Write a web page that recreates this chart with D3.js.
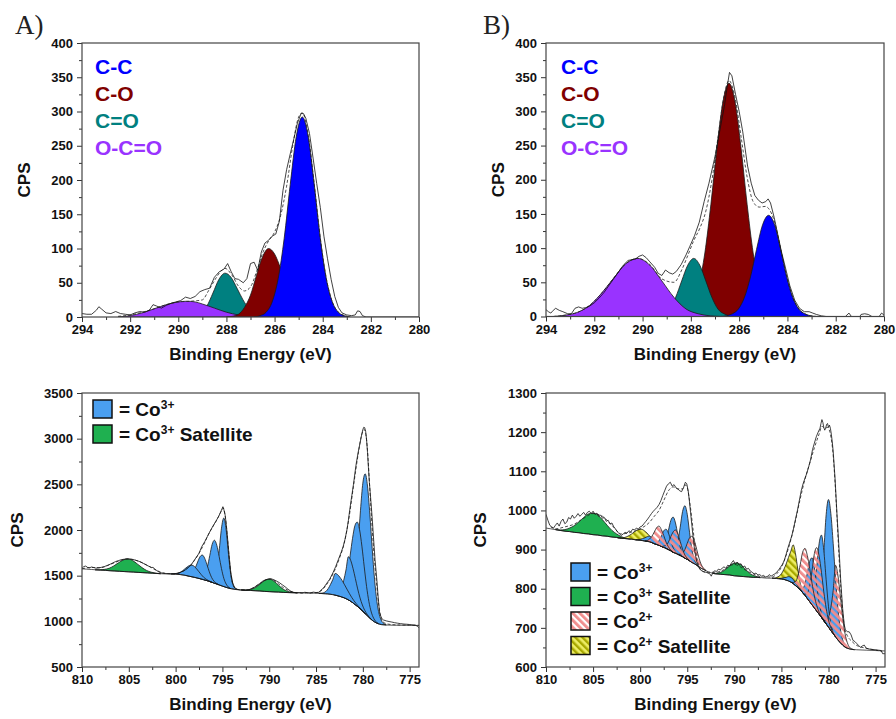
<!DOCTYPE html>
<html><head><meta charset="utf-8">
<script src="https://cdn.jsdelivr.net/npm/d3@7"></script>
<style>body{margin:0;background:#fff} svg{display:block}</style>
</head><body><svg id="chart" width="896" height="719" style="font-family:'Liberation Sans',Arial,sans-serif"></svg>
<script>
// ---------------- DATA ----------------
// Panel A (C 1s, sample A)
const aRaw = [[294,5],[293.8,4],[293.6,4],[293.4,10],[293.3,15],[293.2,12],[293.0,6],[292.8,5],[292.6,8],[292.4,5],[292.2,4],[292.0,3],[291.8,6],[291.6,8],[291.4,7],[291.2,10],[291.05,18],[290.9,16],[290.7,13],[290.5,17],[290.3,20],[290.1,22],[289.9,24],[289.7,29],[289.5,27],[289.3,30],[289.1,37],[288.9,40],[288.7,42],[288.5,58],[288.3,66],[288.1,70],[287.95,78],[287.8,66],[287.65,56],[287.5,55],[287.3,50],[287.15,56],[287.0,78],[286.85,80],[286.7,68],[286.55,95],[286.4,108],[286.25,112],[286.1,118],[285.95,121],[285.8,140],[285.65,185],[285.5,215],[285.35,238],[285.2,260],[285.05,283],[284.9,297],[284.8,297],[284.7,290],[284.55,268],[284.4,232],[284.25,195],[284.1,160],[283.95,118],[283.8,85],[283.65,55],[283.5,30],[283.35,14],[283.2,6],[283.0,3],[282.8,2],[282.65,3],[282.55,9],[282.45,8],[282.35,2],[282.2,0],[281.5,0],[280,0]];
const aEnvelope = [[292.5,1],[292,3],[291.5,7],[291,12],[290.5,18],[290,22],[289.5,23],[289.0,25],[288.75,38],[288.5,53],[288.25,66],[288.06,71],[287.75,60],[287.5,45],[287.25,38],[287.0,44],[286.75,66],[286.5,93],[286.25,111],[286.0,124],[285.75,148],[285.5,191],[285.25,249],[285.0,292],[284.85,298],[284.6,265],[284.35,193],[284.1,115],[283.85,56],[283.6,22],[283.35,7],[283.1,2],[282.85,0]];
const aCC = [[286.85,0],[286.6,2],[286.35,7],[286.1,22],[285.85,56],[285.6,115],[285.35,193],[285.1,263],[284.85,292],[284.6,263],[284.35,193],[284.1,115],[283.85,56],[283.6,22],[283.35,7],[283.1,2],[282.85,0]];
const aCO = [[288.0,0],[287.75,1],[287.5,4],[287.25,14],[287.0,32],[286.75,61],[286.5,88],[286.25,100],[286.0,92],[285.75,71],[285.5,46],[285.25,25],[285.0,11],[284.75,4],[284.5,1],[284.25,0]];
const aCdO = [[289.56,0],[289.31,1],[289.06,5],[288.81,16],[288.56,35],[288.31,55],[288.06,64],[287.81,58],[287.56,42],[287.31,25],[287.06,12],[286.81,5],[286.56,2],[286.31,0]];
const aOCO = [[292.5,0],[292.0,2],[291.5,6],[291.0,12],[290.5,18],[290.0,22],[289.65,23],[289.3,22],[289.0,19],[288.5,13],[288.0,7],[287.5,3],[287.0,1],[286.5,0]];

// Panel B (C 1s, sample B)
const bRaw = [[294,10],[293.9,7],[293.8,5],[293.7,9],[293.6,12],[293.45,9],[293.3,7],[293.1,4],[292.95,4],[292.8,12],[292.65,14],[292.5,12],[292.35,13],[292.2,15],[292.0,20],[291.8,27],[291.6,35],[291.4,45],[291.2,55],[291.0,65],[290.8,75],[290.6,82],[290.45,83],[290.3,84],[290.15,88],[290.0,90],[289.85,86],[289.7,80],[289.5,72],[289.35,63],[289.2,60],[289.05,68],[288.9,64],[288.75,62],[288.6,66],[288.4,76],[288.2,90],[288.05,102],[287.85,118],[287.65,138],[287.45,168],[287.25,195],[287.0,234],[286.8,272],[286.6,310],[286.5,335],[286.4,357],[286.3,352],[286.15,325],[286.0,300],[285.85,270],[285.65,220],[285.5,195],[285.35,177],[285.2,170],[285.05,166],[284.9,168],[284.8,172],[284.7,166],[284.55,145],[284.4,120],[284.25,95],[284.1,74],[283.9,45],[283.7,24],[283.5,12],[283.3,7],[283.1,7],[282.95,5],[282.8,3],[282.6,1],[282.4,0],[281.6,0],[281.45,5],[281.35,0],[281.0,0],[280.95,3],[280.8,4],[280.65,3],[280.5,0],[280.2,0],[280.1,5],[280.0,2]];
const bEnvelope = [[293.7,0],[293.2,2],[292.7,6],[292.2,16],[291.7,34],[291.2,56],[290.7,77],[290.2,85],[289.7,76],[289.2,55],[288.7,50],[288.38,68],[288.13,89],[287.88,111],[287.63,129],[287.38,154],[287.13,199],[286.88,261],[286.63,322],[286.42,345],[286.17,320],[285.92,263],[285.67,204],[285.42,168],[285.17,160],[284.92,161],[284.78,158],[284.53,138],[284.28,99],[284.03,58],[283.78,28],[283.53,11],[283.28,4],[283.03,1],[282.78,0]];
const bCC = [[286.78,0],[286.53,1],[286.28,4],[286.03,11],[285.78,28],[285.53,58],[285.28,98],[285.03,134],[284.78,148],[284.53,134],[284.28,98],[284.03,58],[283.78,28],[283.53,11],[283.28,4],[283.03,1],[282.78,0]];
const bCO = [[288.67,0],[288.42,2],[288.17,6],[287.92,18],[287.67,45],[287.42,93],[287.17,164],[286.92,246],[286.67,314],[286.42,341],[286.17,314],[285.92,246],[285.67,164],[285.42,93],[285.17,45],[284.92,18],[284.67,6],[284.42,2],[284.17,0]];
const bCdO = [[289.63,0],[289.38,1],[289.13,4],[288.88,11],[288.63,28],[288.38,52],[288.13,75],[287.88,85],[287.63,75],[287.38,52],[287.13,28],[286.88,11],[286.63,4],[286.38,1],[286.13,0]];
const bOCO = [[293.7,0],[293.2,2],[292.7,6],[292.2,16],[291.7,34],[291.2,56],[290.7,77],[290.2,85],[289.7,75],[289.2,52],[288.7,28],[288.2,11],[287.7,4],[287.2,1],[286.7,0]];

const carbonLabels = ["C-C","C-O","C=O","O-C=O"];
const carbonColors = ["#0000ff","#800000","#008080","#9933ff"];
const topXTicks = [294,292,290,288,286,284,282,280];
const topXMinor = [293,291,289,287,285,283,281];
const topYTicks = [0,50,100,150,200,250,300,350,400];
const topYMinor = [25,75,125,175,225,275,325,375];

// Panel C (Co 2p, sample A)
const cRaw = [[810,1580],[809.8,1600],[809.6,1605],[809.4,1590],[809.2,1585],[809.0,1595],[808.8,1590],[808.5,1582],[808.2,1585],[807.9,1592],[807.6,1600],[807.3,1612],[807.0,1625],[806.7,1640],[806.4,1655],[806.1,1665],[805.8,1675],[805.5,1680],[805.2,1684],[804.9,1682],[804.6,1678],[804.3,1670],[804.0,1660],[803.7,1648],[803.4,1632],[803.1,1615],[802.8,1600],[802.6,1590],[802.4,1590],[802.2,1570],[802.0,1555],[801.7,1535],[801.4,1527],[801.1,1524],[800.8,1522],[800.5,1520],[800.2,1521],[799.9,1524],[799.6,1530],[799.3,1545],[799.0,1560],[798.7,1585],[798.4,1610],[798.1,1655],[797.8,1700],[797.5,1745],[797.2,1820],[796.9,1870],[796.6,1930],[796.3,1990],[796.0,2045],[795.7,2095],[795.4,2150],[795.2,2195],[795.05,2230],[794.95,2255],[794.85,2225],[794.7,2160],[794.55,2020],[794.4,1850],[794.25,1680],[794.1,1530],[793.9,1420],[793.7,1370],[793.4,1350],[793.1,1342],[792.8,1340],[792.5,1338],[792.2,1345],[791.9,1358],[791.6,1372],[791.3,1395],[791.0,1415],[790.7,1440],[790.4,1455],[790.1,1462],[789.8,1466],[789.5,1455],[789.2,1440],[788.9,1422],[788.6,1400],[788.3,1378],[788.0,1352],[787.7,1330],[787.4,1318],[787.1,1312],[786.8,1315],[786.5,1310],[786.2,1318],[785.9,1314],[785.6,1310],[785.3,1320],[785.0,1315],[784.7,1318],[784.5,1340],[784.2,1365],[783.9,1410],[783.55,1460],[783.2,1530],[782.9,1600],[782.6,1680],[782.3,1760],[782.1,1820],[781.9,1900],[781.7,2000],[781.55,2100],[781.4,2220],[781.2,2360],[781.0,2500],[780.85,2620],[780.7,2730],[780.5,2850],[780.3,2950],[780.15,3030],[780.0,3100],[779.9,3125],[779.8,3120],[779.7,3080],[779.6,2990],[779.5,2850],[779.4,2680],[779.3,2520],[779.15,2330],[779.0,2130],[778.85,1900],[778.7,1680],[778.5,1450],[778.35,1250],[778.2,1090],[778.0,1035],[777.8,1015],[777.5,1005],[777.2,998],[776.9,992],[776.6,985],[776.3,980],[776.0,975],[775.6,970],[775.3,968],[775.0,965],[774.6,960],[774.4,958],[774.2,948],[774.0,930]];
const cEnvelope = [[810,1575],[809,1590],[808,1588],[807,1622],[806,1663],[805.1,1683],[804,1660],[803,1612],[802,1556],[801,1524],[800,1520],[799.5,1535],[799,1560],[798.5,1605],[798,1665],[797.5,1745],[797,1840],[796.5,1950],[796,2040],[795.5,2130],[795.1,2210],[794.9,2240],[794.7,2150],[794.5,1960],[794.3,1720],[794.1,1520],[793.9,1410],[793.6,1360],[793.2,1345],[792.5,1342],[792,1352],[791.5,1378],[791,1412],[790.5,1447],[790,1463],[789.5,1450],[789,1410],[788.5,1370],[788,1340],[787.5,1320],[787,1313],[786,1312],[785,1312],[784.5,1330],[784,1385],[783.5,1460],[783,1560],[782.5,1690],[782,1850],[781.5,2120],[781,2480],[780.5,2830],[780.2,3010],[780,3080],[779.85,3100],[779.7,3060],[779.5,2870],[779.3,2530],[779.1,2180],[778.9,1860],[778.7,1600],[778.5,1380],[778.3,1180],[778.1,1060],[777.9,1000],[777.5,975],[777,965],[776,960],[775,958],[774,956]];
const cBackground = [[810,1575],[809.5,1571],[809,1568],[808.5,1564],[808,1561],[807.5,1558],[807,1554],[806.5,1551],[806,1548],[805.5,1545],[805,1542],[804.5,1539],[804,1536],[803.5,1533],[803,1530],[802.5,1527],[802,1524],[801.5,1521],[801,1519],[800.5,1519],[800,1517],[799.5,1512],[799,1504],[798.5,1493],[798,1482],[797.5,1470],[797,1456],[796.5,1441],[796,1423],[795.5,1405],[795,1386],[794.5,1369],[794,1356],[793.5,1348],[793,1345],[792.5,1341],[792,1338],[791.5,1335],[791,1332],[790.5,1328],[790,1325],[789.5,1322],[789,1320],[788.5,1317],[788,1315],[787.5,1313],[787,1312],[786.5,1311],[786,1310],[785.5,1309],[785,1308],[784.5,1305],[784,1302],[783.75,1300],[783.5,1297],[783.25,1293],[783,1288],[782.75,1282],[782.5,1275],[782.25,1267],[782,1258],[781.75,1247],[781.5,1233],[781.25,1217],[781,1198],[780.75,1178],[780.5,1157],[780.25,1134],[780,1110],[779.75,1085],[779.5,1060],[779.25,1035],[779,1012],[778.75,994],[778.5,980],[778.25,970],[778,964],[777.5,960],[777,958],[776,957],[775,956],[774,955]];
// Co3+ components (right-most first)
const cCo3p1 = [[781.75,1247],[781.5,1254],[781.25,1284],[781.0,1372],[780.75,1559],[780.5,1858],[780.25,2216],[780.0,2513],[779.75,2615],[779.5,2481],[779.25,2173],[779.0,1798],[778.75,1462],[778.5,1220],[778.25,1077],[778.0,1005],[777.75,975],[777.5,960]];
const cCo3p2 = [[782.85,1285],[782.6,1290],[782.35,1304],[782.1,1343],[781.85,1422],[781.6,1551],[781.35,1725],[781.1,1909],[780.85,2047],[780.6,2087],[780.35,2004],[780.1,1823],[779.85,1596],[779.6,1382],[779.35,1215],[779.1,1102],[778.85,1035],[778.6,997],[778.35,974]];
const cCo3p3 = [[783.05,1289],[782.8,1294],[782.55,1313],[782.3,1359],[782.05,1446],[781.8,1562],[781.55,1708],[781.3,1668],[781.05,1580],[780.8,1469],[780.55,1355],[780.3,1257],[780.05,1179],[779.8,1121],[779.55,1079],[779.3,1045],[779.05,1017]];
const cCo3p4 = [[784.7,1306],[784.45,1308],[784.2,1313],[783.95,1328],[783.7,1358],[783.45,1405],[783.2,1460],[782.95,1525],[782.7,1512],[782.45,1483],[782.2,1445],[781.95,1400],[781.7,1353],[781.45,1307],[781.2,1264],[780.95,1226],[780.7,1193],[780.45,1162],[780.2,1134],[779.95,1108],[779.7,1080]];
const cCo3q1 = [[796.35,1435],[796.1,1436],[795.85,1462],[795.6,1561],[795.35,1770],[795.1,2020],[794.85,2131],[794.6,2001],[794.35,1733],[794.1,1509],[793.85,1396],[793.6,1358],[793.35,1347]];
const cCo3q2 = [[797.6,1474],[797.35,1472],[797.1,1481],[796.85,1515],[796.6,1597],[796.35,1720],[796.1,1842],[795.85,1888],[795.6,1833],[795.35,1711],[795.1,1577],[794.85,1471],[794.6,1408],[794.35,1374],[794.1,1357]];
const cCo3q3 = [[798.9,1503],[798.65,1504],[798.4,1512],[798.15,1538],[797.9,1585],[797.65,1649],[797.4,1706],[797.15,1726],[796.9,1692],[796.65,1621],[796.4,1542],[796.15,1479],[795.9,1440],[795.65,1417],[795.4,1401]];
const cCo3q4 = [[800.5,1519],[800.25,1520],[800.0,1523],[799.75,1528],[799.5,1538],[799.25,1554],[799.0,1576],[798.75,1597],[798.5,1612],[798.25,1615],[798.0,1601],[797.75,1574],[797.5,1542],[797.25,1510],[797.0,1482],[796.75,1462],[796.5,1447],[796.25,1434],[796.0,1423]];
const cSat1 = [[808.6,1564],[808.1,1564],[807.6,1569],[807.1,1581],[806.6,1607],[806.1,1641],[805.6,1672],[805.1,1683],[804.6,1666],[804.1,1629],[803.6,1589],[803.1,1557],[802.6,1538],[802.1,1527],[801.6,1521]];
const cSat2 = [[793,1345],[792.5,1344],[792,1350],[791.5,1369],[791,1406],[790.5,1446],[790,1463],[789.5,1440],[789,1394],[788.5,1351],[788,1327],[787.5,1316],[787,1312]];

// Panel D (Co 2p, sample B)
const dRaw = [[810,990],[809.8,975],[809.6,962],[809.4,958],[809.2,955],[809.0,962],[808.8,968],[808.6,960],[808.4,972],[808.2,978],[808.0,966],[807.8,970],[807.6,982],[807.4,978],[807.2,988],[807.0,980],[806.8,985],[806.6,992],[806.4,985],[806.2,990],[806.0,995],[805.8,988],[805.6,995],[805.4,998],[805.2,992],[805.0,998],[804.8,990],[804.6,993],[804.4,985],[804.2,988],[804.0,980],[803.8,982],[803.6,972],[803.4,975],[803.2,965],[803.0,968],[802.8,958],[802.6,952],[802.4,945],[802.2,940],[802.0,936],[801.8,940],[801.6,944],[801.4,942],[801.2,948],[801.0,945],[800.8,952],[800.6,950],[800.4,955],[800.2,952],[800.0,958],[799.8,960],[799.6,966],[799.4,972],[799.2,978],[799.0,985],[798.8,992],[798.6,998],[798.4,1003],[798.2,1008],[798.0,1015],[797.8,1025],[797.6,1038],[797.4,1050],[797.2,1062],[797.0,1068],[796.8,1072],[796.6,1062],[796.4,1066],[796.2,1058],[796.0,1055],[795.8,1050],[795.6,1048],[795.4,1058],[795.2,1072],[795.05,1068],[794.9,1050],[794.8,1030],[794.65,995],[794.5,960],[794.35,925],[794.2,895],[794.0,870],[793.8,855],[793.6,848],[793.4,845],[793.2,843],[793.0,842],[792.8,840],[792.6,838],[792.45,832],[792.3,840],[792.1,846],[791.9,844],[791.7,850],[791.5,848],[791.3,852],[791.1,856],[790.9,852],[790.7,860],[790.5,858],[790.3,866],[790.1,872],[789.9,862],[789.7,868],[789.5,860],[789.3,864],[789.1,855],[788.9,858],[788.7,850],[788.5,852],[788.3,845],[788.1,842],[787.9,838],[787.7,840],[787.5,835],[787.3,836],[787.1,832],[786.9,834],[786.7,830],[786.5,831],[786.3,836],[786.1,832],[785.9,835],[785.7,838],[785.5,842],[785.3,848],[785.1,855],[784.9,862],[784.7,872],[784.5,888],[784.3,905],[784.1,920],[783.9,935],[783.7,955],[783.5,978],[783.3,1000],[783.1,1025],[782.9,1050],[782.7,1068],[782.5,1082],[782.3,1095],[782.1,1112],[781.9,1130],[781.7,1155],[781.5,1172],[781.3,1188],[781.1,1200],[780.9,1210],[780.8,1222],[780.7,1232],[780.6,1225],[780.5,1212],[780.4,1205],[780.3,1210],[780.2,1220],[780.1,1222],[780.0,1212],[779.9,1218],[779.8,1210],[779.7,1195],[779.6,1175],[779.5,1150],[779.4,1115],[779.3,1080],[779.2,1035],[779.1,990],[779.0,950],[778.9,910],[778.8,865],[778.7,820],[778.6,785],[778.5,750],[778.4,725],[778.3,705],[778.2,695],[778.0,690],[777.8,690],[777.6,682],[777.4,668],[777.2,665],[777.0,660],[776.8,655],[776.6,650],[776.4,654],[776.2,656],[776.0,648],[775.7,646],[775.4,645],[775.0,644],[774.7,643],[774.4,642],[774.25,634],[774.0,634]];
const dEnvelope = [[809.5,958],[809,953],[808,958],[807,965],[806,980],[805,992],[804,985],[803,962],[802,940],[801,944],[800,953],[799,970],[798.5,985],[798,1000],[797.5,1025],[797,1050],[796.5,1060],[796,1055],[795.5,1055],[795.2,1065],[795,1058],[794.7,1015],[794.4,955],[794.1,895],[793.8,860],[793.4,845],[793,842],[792,842],[791,850],[790.5,858],[790,862],[789.5,858],[789,850],[788,838],[787,830],[786,830],[785.5,838],[785,855],[784.5,885],[784,925],[783.5,975],[783,1030],[782.5,1080],[782,1120],[781.5,1160],[781,1195],[780.7,1215],[780.4,1210],[780.1,1212],[779.8,1195],[779.5,1140],[779.3,1070],[779.1,985],[778.9,890],[778.7,805],[778.5,740],[778.3,700],[778,680],[777.5,665],[777,655],[776,648],[775,643],[774.3,640]];
const dBackground = [[810,955],[809.5,953],[809,951],[808.5,949],[808,947],[807.5,946],[807,944],[806.5,943],[806,941],[805.5,940],[805,938],[804.5,937],[804,935],[803.5,934],[803,932],[802.5,931],[802,929],[801.5,928],[801,927],[800.5,925],[800.25,924.5],[800,924],[799.75,923],[799.5,922],[799.25,921],[799,920],[798.75,918],[798.5,915],[798.25,913],[798,911],[797.75,908],[797.5,906],[797.25,903],[797,900],[796.75,897],[796.5,893],[796.25,891],[796,888],[795.75,885],[795.5,882],[795.25,878],[795,875],[794.75,871],[794.5,867],[794.25,864],[794,860],[793.75,856],[793.5,852],[793.25,849],[793,846],[792.75,843],[792.5,841],[792.25,839],[792,838],[791.5,837],[791,836],[790.5,835],[790,833],[789.5,832],[789,831],[788.5,830],[788,829],[787.5,829],[787,828],[786.5,827],[786,827],[785.5,826],[785,825],[784.75,824],[784.5,822],[784.25,820],[784,817],[783.75,813],[783.5,808],[783.25,803],[783,797],[782.75,790],[782.5,783],[782.25,775],[782,767],[781.75,759],[781.5,751],[781.25,743],[781,735],[780.75,727],[780.5,718],[780.25,710],[780,702],[779.75,693],[779.5,685],[779.25,677],[779,669],[778.75,662],[778.5,656],[778.25,651],[778,648],[777.75,646],[777.5,645],[777,644],[776,643],[775,642],[774,641]];
const dCo3Sat1 = [[809.0,951],[808.5,950],[808.0,951],[807.5,955],[807.0,961],[806.5,971],[806.0,982],[805.5,991],[805.0,993],[804.5,988],[804.0,976],[803.5,962],[803.0,949],[802.5,940],[802.0,933],[801.5,929],[801.0,927]];
const dCo3Sat2 = [[792.25,839],[791.75,840],[791.25,844],[790.75,853],[790.25,863],[789.75,866],[789.25,860],[788.75,848],[788.25,837],[787.75,832],[787.25,828]];
const dCo2Sat1 = [[802.4,930],[801.9,930],[801.4,933],[800.9,940],[800.4,949],[799.9,952],[799.4,945],[798.9,932],[798.4,919],[797.9,911],[797.4,905]];
const dCo2Sat2 = [[786.0,827],[785.75,827],[785.5,829],[785.25,832],[785.0,838],[784.75,849],[784.5,863],[784.25,880],[784.0,896],[783.75,912],[783.5,889],[783.25,848],[783.0,814],[782.75,794],[782.5,783]];
const dCo3a = [[781.5,751],[781.25,750],[781.0,763],[780.75,808],[780.5,894],[780.25,989],[780.0,1028],[779.75,992],[779.5,915],[779.25,826],[779.0,750],[778.75,699],[778.5,670],[778.25,656],[778.0,648]];
const dCo3b = [[782.25,775],[782.0,771],[781.75,777],[781.5,803],[781.25,856],[781.0,915],[780.75,937],[780.5,898],[780.25,823],[780.0,754],[779.75,711],[779.5,689],[779.25,677]];
const dCo3c = [[783.25,803],[783.0,800],[782.75,800],[782.5,813],[782.25,840],[782.0,870],[781.75,879],[781.5,854],[781.25,808],[781.0,765],[780.75,737],[780.5,721],[780.25,710]];
const dCo3d = [[785.25,826],[785.0,827],[784.75,828],[784.5,829],[784.25,831],[784.0,829],[783.75,824],[783.5,815],[783.25,807],[783.0,799],[782.75,790]];
const dCo3e = [[796.75,897],[796.5,896],[796.25,902],[796.0,921],[795.75,957],[795.5,997],[795.25,1012],[795.0,990],[794.75,943],[794.5,900],[794.25,875],[794.0,863],[793.75,856]];
const dCo3f = [[798.0,911],[797.75,910],[797.5,914],[797.25,925],[797.0,949],[796.75,974],[796.5,983],[796.25,968],[796.0,937],[795.75,907],[795.5,890],[795.25,880],[795.0,875]];
const dCo3g = [[798.75,918],[798.5,916],[798.25,917],[798.0,923],[797.75,934],[797.5,948],[797.25,952],[797.0,942],[796.75,923],[796.5,905],[796.25,895],[796.0,889],[795.75,885]];
const dCo3h = [[800.5,925],[800.25,925],[800.0,926],[799.75,928],[799.5,930],[799.25,933],[799.0,934],[798.75,930],[798.5,924],[798.25,918],[798.0,913],[797.75,909],[797.5,906]];
const dCo2a = [[780.75,727],[780.5,720],[780.25,718],[780.0,727],[779.75,752],[779.5,796],[779.25,860],[779.0,834],[778.75,783],[778.5,728],[778.25,686],[778.0,662],[777.75,650],[777.5,646],[777.25,644]];
const dCo2b = [[782.75,790],[782.5,786],[782.25,789],[782.0,807],[781.75,846],[781.5,890],[781.25,905],[781.0,884],[780.75,842],[780.5,792],[780.25,750],[780.0,720],[779.75,700],[779.5,687],[779.25,677]];
const dCo2c = [[784.0,817],[783.75,816],[783.5,818],[783.25,833],[783.0,862],[782.75,893],[782.5,903],[782.25,885],[782.0,852],[781.75,814],[781.5,781],[781.25,757],[781.0,740],[780.75,729],[780.5,718]];
const dCo2d = [[796.0,888],[795.75,888],[795.5,891],[795.25,900],[795.0,916],[794.75,930],[794.5,934],[794.25,923],[794.0,901],[793.75,878],[793.5,861],[793.25,852],[793.0,846]];
const dCo2e = [[797.75,908],[797.5,909],[797.25,911],[797.0,919],[796.75,933],[796.5,945],[796.25,950],[796.0,940],[795.75,921],[795.5,901],[795.25,886],[795.0,878],[794.75,871]];
const dCo2f = [[799.5,922],[799.25,923],[799.0,927],[798.75,934],[798.5,945],[798.25,956],[798.0,960],[797.75,951],[797.5,936],[797.25,919],[797.0,907],[796.75,899],[796.5,893]];

const botXTicks = [810,805,800,795,790,785,780,775];
const botXMinor = [807.5,802.5,797.5,792.5,787.5,782.5,777.5];
const cYTicks = [500,1000,1500,2000,2500,3000,3500];
const cYMinor = [750,1250,1750,2250,2750,3250];
const dYTicks = [600,700,800,900,1000,1100,1200,1300];
const dYMinor = [650,750,850,950,1050,1150,1250];
const coLabels = [["= Co","3+",""],["= Co","3+"," Satellite"],["= Co","2+",""],["= Co","2+"," Satellite"]];

// ---------------- DRAWING ----------------
const svg = d3.select("#chart");
const defs = svg.append("defs");
const COL_CO3 = "#4a9ff0", COL_SAT = "#1fb050";
const ph = defs.append("pattern").attr("id","pinkHatch").attr("patternUnits","userSpaceOnUse")
  .attr("width",5).attr("height",5).attr("patternTransform","rotate(-45)");
ph.append("rect").attr("width",2.8).attr("height",5).attr("fill","#f08c8c");
const yh = defs.append("pattern").attr("id","yelHatch").attr("patternUnits","userSpaceOnUse")
  .attr("width",5).attr("height",5).attr("patternTransform","rotate(-45)");
yh.append("rect").attr("width",5).attr("height",5).attr("fill","#eeee66");
yh.append("rect").attr("width",2.4).attr("height",5).attr("fill","#a8a800");

function makePanel(o){
  const x = d3.scaleLinear().domain(o.xDom).range([o.L,o.R]);
  const y = d3.scaleLinear().domain(o.yDom).range([o.B,o.T]);
  const g = svg.append("g");
  defs.append("clipPath").attr("id","clip"+o.id).append("rect")
    .attr("x",o.L).attr("y",o.T).attr("width",o.R-o.L).attr("height",o.B-o.T);
  const plot = g.append("g").attr("clip-path",`url(#clip${o.id})`);
  const styleAxis = sel => { sel.select(".domain").remove();
    sel.selectAll("line").attr("stroke","#333").attr("stroke-width",1);
    sel.selectAll("text").attr("font-size",13).attr("font-weight","bold").attr("fill","#111")
      .style("font-family","'Liberation Sans',Arial,sans-serif"); };
  g.append("g").attr("transform",`translate(0,${o.B})`)
    .call(d3.axisBottom(x).tickValues(o.xTicks).tickSize(5).tickPadding(3).tickFormat(d3.format("d"))).call(styleAxis);
  g.append("g").attr("transform",`translate(0,${o.B})`)
    .call(d3.axisBottom(x).tickValues(o.xMinor).tickSize(3).tickFormat("")).call(styleAxis);
  g.append("g").attr("transform",`translate(${o.L},0)`)
    .call(d3.axisLeft(y).tickValues(o.yTicks).tickSize(5).tickPadding(4).tickFormat(d3.format("d"))).call(styleAxis);
  g.append("g").attr("transform",`translate(${o.L},0)`)
    .call(d3.axisLeft(y).tickValues(o.yMinor).tickSize(3).tickFormat("")).call(styleAxis);
  g.append("text").attr("x",(o.L+o.R)/2).attr("y",o.B+43).attr("text-anchor","middle")
    .attr("font-size",17).attr("font-weight","bold").attr("fill","#111").text("Binding Energy (eV)");
  g.append("text").attr("transform",`translate(${o.cpsX},${(o.T+o.B)/2}) rotate(-90)`)
    .attr("text-anchor","middle").attr("dominant-baseline","central")
    .attr("font-size",17).attr("font-weight","bold").attr("fill","#111").text("CPS");
  return {x,y,g,plot,o};
}
function frame(p){
  p.g.append("rect").attr("x",p.o.L).attr("y",p.o.T).attr("width",p.o.R-p.o.L).attr("height",p.o.B-p.o.T)
    .attr("fill","none").attr("stroke","#444").attr("stroke-width",1.2);
}
function peakPath(p, pts, bg){
  const top = d3.line().x(d=>p.x(d[0])).y(d=>p.y(d[1])).curve(d3.curveMonotoneX)(pts);
  let tail = "";
  if (bg){
    const s = pts[0][0], e = pts[pts.length-1][0];
    tail = bg.filter(d=>d[0]<s && d[0]>e).reverse().map(d=>`L${p.x(d[0])},${p.y(d[1])}`).join("");
  }
  return top + tail + "Z";
}
function drawPeak(p, pts, fill, bg){
  p.plot.append("path").attr("d",peakPath(p,pts,bg)).attr("fill",fill)
    .attr("stroke","#1a1a1a").attr("stroke-width",0.8).attr("stroke-linejoin","round");
}
function drawLine(p, pts, dashed, curve, w){
  p.plot.append("path").attr("d",d3.line().x(d=>p.x(d[0])).y(d=>p.y(d[1])).curve(curve||d3.curveLinear)(pts))
    .attr("fill","none").attr("stroke", dashed ? "#222" : "#111").attr("stroke-width",w||0.8)
    .attr("stroke-dasharray", dashed ? "3,2" : null);
}

// Panel labels (serif)
svg.append("text").attr("x",15).attr("y",34).style("font-family","'Liberation Serif','Times New Roman',serif")
  .attr("font-size",27).attr("fill","#222").text("A)");
svg.append("text").attr("x",483).attr("y",34).style("font-family","'Liberation Serif','Times New Roman',serif")
  .attr("font-size",27).attr("fill","#222").text("B)");

// ---- Panel A
const pA = makePanel({id:"A",L:82,R:419,T:43,B:317,xDom:[294,280],yDom:[0,400],xTicks:topXTicks,xMinor:topXMinor,yTicks:topYTicks,yMinor:topYMinor,cpsX:24});
drawPeak(pA,aCdO,carbonColors[2]);
drawPeak(pA,aOCO,carbonColors[3]);
drawPeak(pA,aCO,carbonColors[1]);
drawPeak(pA,aCC,carbonColors[0]);
drawLine(pA,aEnvelope,true,d3.curveMonotoneX);
drawLine(pA,aRaw,false);
frame(pA);

// ---- Panel B
const pB = makePanel({id:"B",L:546,R:884,T:43,B:316.5,xDom:[294,280],yDom:[0,400],xTicks:topXTicks,xMinor:topXMinor,yTicks:topYTicks,yMinor:topYMinor,cpsX:498});
drawPeak(pB,bCO,carbonColors[1]);
drawPeak(pB,bCdO,carbonColors[2]);
drawPeak(pB,bOCO,carbonColors[3]);
drawPeak(pB,bCC,carbonColors[0]);
drawLine(pB,bEnvelope,true,d3.curveMonotoneX);
drawLine(pB,bRaw,false);
frame(pB);

[[pA,95],[pB,561]].forEach(([p,lx])=>{
  carbonLabels.forEach((t,i)=>{
    p.g.append("text").attr("x",lx).attr("y",74+i*27).attr("font-size",21).attr("font-weight","bold")
      .attr("fill",carbonColors[i]).text(t);
  });
});

// ---- Panel C
const pC = makePanel({id:"C",L:82,R:419,T:393,B:667,xDom:[810,774],yDom:[500,3500],xTicks:botXTicks,xMinor:botXMinor,yTicks:cYTicks,yMinor:cYMinor,cpsX:17});
[cSat1,cSat2].forEach(s=>drawPeak(pC,s,COL_SAT,cBackground));
[cCo3p1,cCo3p2,cCo3p3,cCo3p4].forEach(s=>drawPeak(pC,s,COL_CO3,cBackground));
[cCo3q1,cCo3q2,cCo3q3,cCo3q4].forEach(s=>drawPeak(pC,s,COL_CO3,cBackground));
drawLine(pC,cBackground,false,d3.curveMonotoneX,0.7);
drawLine(pC,cEnvelope,true,d3.curveMonotoneX);
drawLine(pC,cRaw,false);
frame(pC);

// ---- Panel D
const pD = makePanel({id:"D",L:546,R:885,T:393,B:667,xDom:[810,774],yDom:[600,1300],xTicks:botXTicks,xMinor:botXMinor,yTicks:dYTicks,yMinor:dYMinor,cpsX:480});
[dCo3Sat1,dCo3Sat2].forEach(s=>drawPeak(pD,s,COL_SAT,dBackground));
[dCo2Sat1,dCo2Sat2].forEach(s=>drawPeak(pD,s,"url(#yelHatch)",dBackground));
[dCo3a,dCo3b,dCo3c,dCo3d,dCo3e,dCo3f,dCo3g,dCo3h].forEach(s=>drawPeak(pD,s,COL_CO3,dBackground));
[dCo2a,dCo2b,dCo2c,dCo2d,dCo2e,dCo2f].forEach(s=>drawPeak(pD,s,"url(#pinkHatch)",dBackground));
drawLine(pD,dBackground,false,d3.curveMonotoneX,0.7);
drawLine(pD,dEnvelope,true,d3.curveMonotoneX);
drawLine(pD,dRaw,false);
frame(pD);

function coLegend(p, lx, ly, step, n){
  const fills = [COL_CO3, COL_SAT, "url(#pinkHatch)", "url(#yelHatch)"];
  for (let i=0;i<n;i++){
    const yy = ly + i*step;
    if (i===2) p.g.append("rect").attr("x",lx).attr("y",yy).attr("width",19).attr("height",18).attr("fill","#fff");
    p.g.append("rect").attr("x",lx).attr("y",yy).attr("width",19).attr("height",18)
      .attr("fill",fills[i]).attr("stroke","#111").attr("stroke-width",1.5);
    const t = p.g.append("text").attr("x",lx+26).attr("y",yy+16).attr("font-size",19)
      .attr("font-weight","bold").attr("fill","#111");
    t.append("tspan").text(coLabels[i][0]);
    t.append("tspan").attr("dy",-7).attr("font-size",12).text(coLabels[i][1]);
    t.append("tspan").attr("dy",7).text(coLabels[i][2]);
  }
}
coLegend(pC, 93, 400, 25, 2);
coLegend(pD, 571, 563, 24.5, 4);
</script></body></html>
